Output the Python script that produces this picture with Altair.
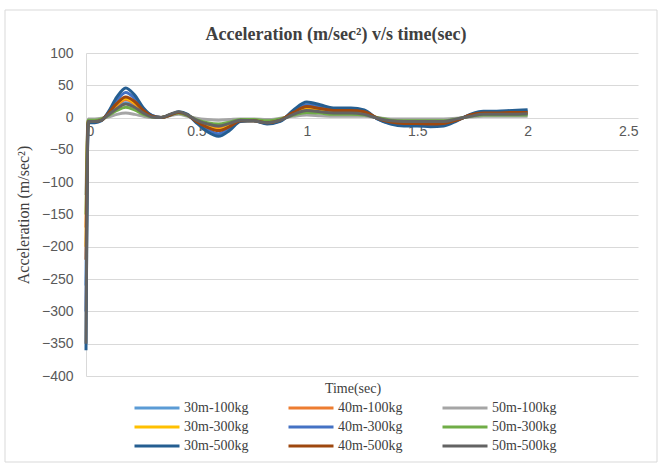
import altair as alt
import pandas as pd

series_names = ["30m-100kg", "40m-100kg", "50m-100kg",
                "30m-300kg", "40m-300kg", "50m-300kg",
                "30m-500kg", "40m-500kg", "50m-500kg"]
series_colors = ["#5B9BD5", "#ED7D31", "#A5A5A5",
                 "#FFC000", "#4472C4", "#70AD47",
                 "#255E91", "#9E480E", "#636363"]

time_sec = [0, 0.01, 0.04, 0.07, 0.10, 0.14, 0.18, 0.22, 0.26, 0.30,
            0.34, 0.38, 0.42, 0.46, 0.50, 0.55, 0.60, 0.65, 0.70, 0.76,
            0.82, 0.88, 0.94, 1.00, 1.06, 1.12, 1.20, 1.26, 1.32, 1.38,
            1.44, 1.50, 1.56, 1.62, 1.68, 1.74, 1.80, 1.86, 1.93, 2.00]

acc_30m_100kg = [-260, -4, -4, -3, 4, 16, 23, 18, 8, 2, 0, 4, 7, 3, -4, -11, -15, -10, -4, -4,
                 -6, -3, 6, 12, 10, 8, 8, 6, -1, -5, -7, -7, -7, -7, -3, 3, 5, 5, 6, 6]
acc_40m_100kg = [-170, -5, -5, -3, 5, 19, 28, 21, 9, 2, 0, 4, 8, 3, -5, -13, -17, -12, -4, -4,
                 -7, -4, 7, 14, 12, 9, 9, 7, -1, -6, -8, -8, -8, -8, -3, 3, 6, 6, 7, 7]
acc_50m_100kg = [-120, -2, -2, -1, 1, 5, 7, 5, 2, 0, 0, 3, 5, 2, -1, -3, -4, -3, -2, -2,
                 -3, -1, 2, 4, 3, 2, 2, 2, 0, -2, -2, -2, -2, -2, -1, 1, 2, 2, 2, 2]
acc_30m_300kg = [-200, -6, -6, -4, 5, 21, 30, 23, 10, 2, 0, 4, 8, 4, -5, -14, -19, -13, -5, -5,
                 -8, -4, 8, 16, 13, 10, 10, 8, -1, -7, -9, -9, -9, -9, -3, 3, 7, 7, 8, 8]
acc_40m_300kg = [-300, -7, -7, -4, 7, 27, 39, 30, 13, 3, 0, 4, 8, 4, -7, -19, -25, -17, -5, -5,
                 -9, -5, 10, 20, 17, 13, 13, 10, -2, -9, -11, -11, -12, -11, -4, 4, 9, 9, 10, 10]
acc_50m_300kg = [-150, -4, -4, -2, 3, 11, 16, 12, 5, 1, 0, 4, 7, 3, -3, -8, -10, -7, -3, -3,
                 -5, -2, 4, 8, 7, 5, 5, 4, 0, -4, -5, -5, -5, -5, -2, 2, 4, 4, 4, 4]
acc_30m_500kg = [-360, -8, -8, -5, 8, 32, 46, 35, 15, 3, 0, 4, 9, 5, -8, -22, -29, -20, -6, -5,
                 -10, -6, 12, 24, 20, 15, 15, 12, -2, -10, -13, -13, -14, -13, -5, 5, 10, 10, 11, 12]
acc_40m_500kg = [-220, -6, -6, -4, 6, 22, 32, 25, 11, 2, 0, 4, 8, 4, -6, -15, -20, -14, -5, -5,
                 -8, -4, 8, 17, 14, 11, 11, 9, -1, -7, -9, -9, -10, -9, -4, 4, 7, 7, 8, 8]
acc_50m_500kg = [-350, -6, -6, -4, 4, 14, 21, 16, 7, 1, 0, 5, 9, 4, -4, -10, -13, -9, -4, -5,
                 -8, -4, 5, 11, 9, 7, 7, 5, -1, -5, -6, -6, -6, -6, -2, 2, 5, 5, 5, 6]

all_series = [acc_30m_100kg, acc_40m_100kg, acc_50m_100kg,
              acc_30m_300kg, acc_40m_300kg, acc_50m_300kg,
              acc_30m_500kg, acc_40m_500kg, acc_50m_500kg]

y_ticks = [100, 50, 0, -50, -100, -150, -200, -250, -300, -350, -400]
x_ticks = [0, 0.5, 1, 1.5, 2, 2.5]

rows = []
for k, (name, vals) in enumerate(zip(series_names, all_series)):
    for t, v in zip(time_sec, vals):
        rows.append({"time": t, "acc": v, "series": name, "k": k})
df = pd.DataFrame(rows)

W, H = 552, 323
zero_from_bottom = H * 400 / 500

lines = alt.Chart(df).mark_line(interpolate="monotone", strokeWidth=3).encode(
    x=alt.X("time:Q", scale=alt.Scale(domain=[0, 2.5], nice=False),
            axis=alt.Axis(values=x_ticks, title=None, domain=False, ticks=False,
                          grid=False, offset=-zero_from_bottom, labelPadding=7,
                          labelFontSize=14, labelColor="#595959",
                          labelFont="Liberation Sans",
                          labelExpr="datum.value == 0 ? '0' : format(datum.value, '~g')")),
    y=alt.Y("acc:Q", scale=alt.Scale(domain=[-400, 100], nice=False),
            axis=alt.Axis(values=y_ticks, title="Acceleration (m/sec²)",
                          titleFont="Liberation Serif", titleFontSize=16,
                          titleFontWeight="normal", titleColor="#404040",
                          titlePadding=10,
                          labelFontSize=14, labelColor="#595959",
                          labelFont="Liberation Sans", labelPadding=13,
                          domainColor="#d9d9d9", ticks=False,
                          gridColor="#d9d9d9")),
    color=alt.Color("series:N", sort=series_names,
                    scale=alt.Scale(domain=series_names, range=series_colors),
                    legend=alt.Legend(title="Time(sec)", orient="none",
                                      legendX=64, legendY=329, columns=3,
                                      direction="horizontal",
                                      symbolType="M-4.5,0H4.5", symbolSize=100,
                                      symbolStrokeWidth=3, columnPadding=33,
                                      rowPadding=5, labelOffset=20,
                                      labelFont="Liberation Serif",
                                      labelFontSize=14, labelColor="#404040",
                                      titleFont="Liberation Serif",
                                      titleFontSize=14, titleFontWeight="normal",
                                      titleColor="#404040", titleAnchor="middle",
                                      titlePadding=5)),
    order=alt.Order("time:Q"),
    detail="series:N",
)

border = alt.Chart(pd.DataFrame({"a": [0]})).mark_rect(
    fill=None, stroke="#d9d9d9", strokeWidth=1
).encode(x=alt.value(-81), x2=alt.value(571), y=alt.value(-43), y2=alt.value(409))

chart = alt.layer(border, lines).properties(
    width=W, height=H,
    title=alt.TitleParams("Acceleration (m/sec²) v/s time(sec)",
                          font="Liberation Serif", fontSize=18, fontWeight="bold",
                          color="#404040", anchor="middle", offset=-34, dx=-26),
    padding={"left": 86, "top": 53, "right": 24, "bottom": 88},
    autosize=alt.AutoSizeParams(type="none"),
).configure_view(stroke=None)

chart.save("out.html", embed_options={"renderer": "svg", "actions": False})
